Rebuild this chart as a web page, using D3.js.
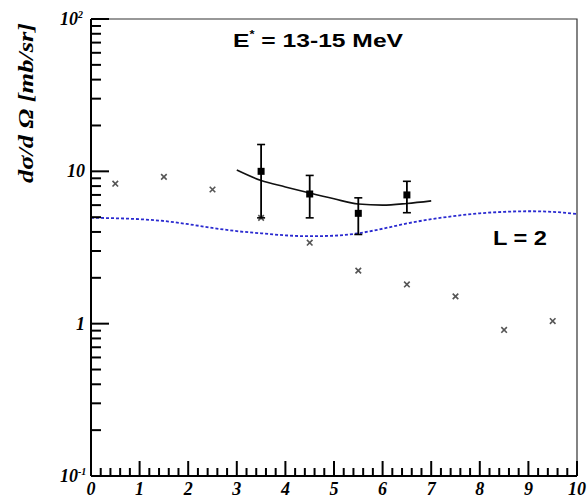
<!DOCTYPE html>
<html>
<head>
<meta charset="utf-8">
<script src="https://cdn.jsdelivr.net/npm/d3@7"></script>
<style>
  body { margin: 0; background: #fff; }
  svg { display: block; }
</style>
</head>
<body>
<svg id="chart"></svg>
<script>
let width = 587;
let height = 500;
let margin = { top: 19, right: 10, bottom: 24, left: 91 };

// data
let crossX = [0.5, 1.5, 2.5, 3.5, 4.5, 5.5, 6.5, 7.5, 8.5, 9.5];
let crossY = [8.3, 9.2, 7.6, 4.95, 3.4, 2.23, 1.81, 1.51, 0.91, 1.04];

let dataX = [3.5, 4.5, 5.5, 6.5];
let dataY = [10.0, 7.1, 5.3, 7.0];
let dataHi = [15.0, 9.4, 6.7, 8.6];
let dataLo = [4.95, 4.95, 3.85, 5.35];

let fitX = [3.0, 3.5, 4.0, 4.5, 5.0, 5.5, 6.0, 6.5, 7.0];
let fitY = [10.2, 8.7, 7.9, 7.2, 6.6, 6.1, 6.0, 6.15, 6.4];

let calcX = [0, 0.5, 1, 1.5, 2, 2.5, 3, 3.5, 4, 4.5, 5, 5.5, 6, 6.5, 7, 7.5, 8, 8.5, 9, 9.5, 10];
let calcY = [4.95, 4.92, 4.85, 4.72, 4.5, 4.25, 4.05, 3.92, 3.8, 3.75, 3.78, 3.92, 4.2, 4.55, 4.85, 5.1, 5.3, 5.42, 5.47, 5.42, 5.25];

let xTicks = [0, 1, 2, 3, 4, 5, 6, 7, 8, 9, 10];

let svg = d3.select('#chart')
  .attr('width', width)
  .attr('height', height);

let x = d3.scaleLinear()
  .domain([0, 10])
  .range([margin.left, width - margin.right]);

let y = d3.scaleLog()
  .domain([0.1, 100])
  .range([height - margin.bottom, margin.top]);

let serif = "'Liberation Serif', 'DejaVu Serif', serif";
let sans = "'Liberation Sans', Arial, sans-serif";

// frame (top and right)
svg.append("path")
  .attr("d", `M${x(0)},${y(100)}H${x(10)}V${y(0.1)}`)
  .attr("fill", "none")
  .attr("stroke", "#333")
  .attr("stroke-width", 1.2);

// tick lists
let yMajor = [0.1, 1, 10, 100];
let yMinor = [];
[0.1, 1, 10].forEach(d => { for (let k = 2; k <= 9; k++) yMinor.push(d * k); });
let xMinor = d3.range(1, 50).filter(i => i % 5 !== 0).map(i => i / 5);

// x tick labels
svg.append("g").selectAll("text")
  .data(xTicks)
  .enter()
  .append("text")
    .attr("x", d => x(d))
    .attr("y", y(0.1) + 19)
    .attr("text-anchor", "middle")
    .attr("font-family", serif)
    .attr("font-style", "italic")
    .attr("font-weight", "bold")
    .attr("font-size", 18)
    .text(d => d);

// y tick labels
let yLabels = [
  { v: 100, base: "10", exp: "2" },
  { v: 10, base: "10", exp: null },
  { v: 1, base: "1", exp: null },
  { v: 0.1, base: "10", exp: "-1" }
];
yLabels.forEach(l => {
  svg.append("text")
    .attr("x", l.exp ? 78 : 85)
    .attr("y", y(l.v) + 6)
    .attr("text-anchor", "end")
    .attr("font-family", serif)
    .attr("font-style", "italic")
    .attr("font-weight", "bold")
    .attr("font-size", 18)
    .text(l.base);
  if (l.exp) {
    svg.append("text")
      .attr("x", 78)
      .attr("y", y(l.v) - 1)
      .attr("font-family", serif)
      .attr("font-style", "italic")
      .attr("font-weight", "bold")
      .attr("font-size", 10)
      .text(l.exp);
  }
});

// y axis title
svg.append("text")
  .attr("transform", `translate(33,${(23 + 183) / 2}) rotate(-90)`)
  .attr("text-anchor", "middle")
  .attr("font-family", serif)
  .attr("font-style", "italic")
  .attr("font-weight", "bold")
  .attr("font-size", 20)
  .attr("textLength", 160)
  .attr("lengthAdjust", "spacingAndGlyphs")
  .text("dσ/d Ω [mb/sr]");

// blue dashed calculation
let calc = calcX.map((d, i) => ({ x: d, y: calcY[i] }));
svg.append("path")
  .datum(calc)
  .attr("fill", "none")
  .attr("stroke", "#2a2ad0")
  .attr("stroke-width", 1.8)
  .attr("stroke-dasharray", "3,2")
  .attr("d", d3.line().curve(d3.curveMonotoneX).x(d => x(d.x)).y(d => y(d.y)));

// black solid fit
let fit = fitX.map((d, i) => ({ x: d, y: fitY[i] }));
svg.append("path")
  .datum(fit)
  .attr("fill", "none")
  .attr("stroke", "#111")
  .attr("stroke-width", 1.6)
  .attr("d", d3.line().curve(d3.curveMonotoneX).x(d => x(d.x)).y(d => y(d.y)));

// crosses
svg.append("g").selectAll("path")
  .data(crossX.map((d, i) => ({ x: d, y: crossY[i] })))
  .enter()
  .append("path")
    .attr("d", d3.symbol().type(d3.symbolTimes).size(22)())
    .attr("transform", d => `translate(${x(d.x)},${y(d.y)})`)
    .attr("fill", "none")
    .attr("stroke", "#555")
    .attr("stroke-width", 1.6);

// data points with error bars
let pts = dataX.map((d, i) => ({ x: d, y: dataY[i], hi: dataHi[i], lo: dataLo[i] }));
let eb = svg.append("g");
eb.selectAll("line.bar")
  .data(pts)
  .enter()
  .append("line")
    .attr("class", "bar")
    .attr("x1", d => x(d.x)).attr("x2", d => x(d.x))
    .attr("y1", d => y(d.hi)).attr("y2", d => y(d.lo))
    .attr("stroke", "#000").attr("stroke-width", 1.8);
["hi", "lo"].forEach(k => {
  eb.selectAll("line.cap" + k)
    .data(pts)
    .enter()
    .append("line")
      .attr("class", "cap" + k)
      .attr("x1", d => x(d.x) - 4).attr("x2", d => x(d.x) + 4)
      .attr("y1", d => y(d[k])).attr("y2", d => y(d[k]))
      .attr("stroke", "#000").attr("stroke-width", 1.6);
});
eb.selectAll("rect")
  .data(pts)
  .enter()
  .append("rect")
    .attr("x", d => x(d.x) - 3.5)
    .attr("y", d => y(d.y) - 3.5)
    .attr("width", 7)
    .attr("height", 7)
    .attr("fill", "#000");

// annotations
let title = svg.append("text")
  .attr("x", 233)
  .attr("y", 47)
  .attr("font-family", sans)
  .attr("font-weight", "bold")
  .attr("font-size", 19)
  .attr("textLength", 170)
  .attr("lengthAdjust", "spacingAndGlyphs");
title.append("tspan").text("E");
title.append("tspan").attr("font-size", 10).attr("dy", -9).text("*");
title.append("tspan").attr("dy", 9).text(" = 13-15 MeV");

svg.append("text")
  .attr("x", 493)
  .attr("y", 245)
  .attr("font-family", sans)
  .attr("font-weight", "bold")
  .attr("font-size", 20)
  .attr("textLength", 54)
  .attr("lengthAdjust", "spacingAndGlyphs")
  .text("L = 2");

// y axis: line + inward ticks
let yAx = svg.append("g").attr("class", "y-axis");
yAx.selectAll(".ytick")
  .data(yMinor.map(v => ({ v: v, len: 10 })).concat(yMajor.map(v => ({ v: v, len: 18 }))))
  .enter()
  .append("line")
    .attr("class", "ytick")
    .attr("x1", x(0)).attr("x2", d => x(0) + d.len)
    .attr("y1", d => y(d.v)).attr("y2", d => y(d.v))
    .attr("stroke", "#000").attr("stroke-width", 2);
yAx.append("line")
  .attr("x1", x(0)).attr("x2", x(0))
  .attr("y1", y(100)).attr("y2", y(0.1))
  .attr("stroke", "#000").attr("stroke-width", 2);

// x axis: line + upward ticks
let xAx = svg.append("g").attr("class", "x-axis");
xAx.selectAll(".xtick")
  .data(xMinor.map(v => ({ v: v, len: 8 })).concat(xTicks.map(v => ({ v: v, len: 15 }))))
  .enter()
  .append("line")
    .attr("class", "xtick")
    .attr("x1", d => x(d.v)).attr("x2", d => x(d.v))
    .attr("y1", y(0.1)).attr("y2", d => y(0.1) - d.len)
    .attr("stroke", "#000").attr("stroke-width", 2);
xAx.append("line")
  .attr("x1", x(0)).attr("x2", x(10))
  .attr("y1", y(0.1)).attr("y2", y(0.1))
  .attr("stroke", "#000").attr("stroke-width", 2);
</script>
</body>
</html>
